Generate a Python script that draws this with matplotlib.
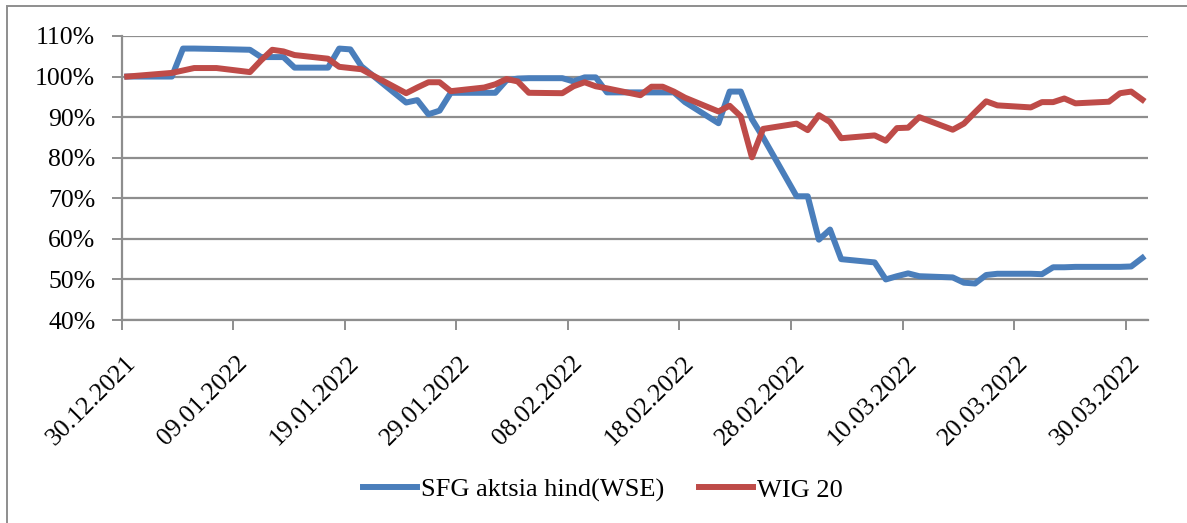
import matplotlib
matplotlib.use("Agg")
import matplotlib.pyplot as plt
import matplotlib.dates as mdates
from matplotlib.ticker import FuncFormatter
from matplotlib.transforms import ScaledTranslation
from matplotlib.patches import Rectangle
import pandas as pd

# trading days (WSE), 30.12.2021 - 31.03.2022
dates = ["2021-12-30", "2022-01-03", "2022-01-04", "2022-01-05", "2022-01-07",
         "2022-01-10", "2022-01-11", "2022-01-12", "2022-01-13", "2022-01-14",
         "2022-01-17", "2022-01-18", "2022-01-19", "2022-01-20", "2022-01-21",
         "2022-01-24", "2022-01-25", "2022-01-26", "2022-01-27", "2022-01-28",
         "2022-01-31", "2022-02-01", "2022-02-02", "2022-02-03", "2022-02-04",
         "2022-02-07", "2022-02-08", "2022-02-09", "2022-02-10", "2022-02-11",
         "2022-02-14", "2022-02-15", "2022-02-16", "2022-02-17", "2022-02-18",
         "2022-02-21", "2022-02-22", "2022-02-23", "2022-02-24", "2022-02-25",
         "2022-02-28", "2022-03-01", "2022-03-02", "2022-03-03", "2022-03-04",
         "2022-03-07", "2022-03-08", "2022-03-09", "2022-03-10", "2022-03-11",
         "2022-03-14", "2022-03-15", "2022-03-16", "2022-03-17", "2022-03-18",
         "2022-03-21", "2022-03-22", "2022-03-23", "2022-03-24", "2022-03-25",
         "2022-03-28", "2022-03-29", "2022-03-30", "2022-03-31"]

sfg = [100.0, 100.0, 106.9, 106.9, 106.8,
       106.6, 104.8, 104.8, 104.8, 102.2,
       102.2, 106.9, 106.7, 102.5, 100.3,
       93.6, 94.2, 90.7, 91.6, 96.0,
       96.0, 96.0, 99.1, 99.5, 99.6,
       99.6, 98.8, 99.8, 99.8, 96.1,
       96.1, 96.1, 96.1, 96.1, 93.7,
       88.5, 96.3, 96.3, 89.5, 85.0,
       70.5, 70.5, 59.8, 62.3, 55.0,
       54.2, 50.0, 50.8, 51.5, 50.8,
       50.5, 49.2, 49.0, 51.1, 51.4,
       51.4, 51.3, 53.0, 53.0, 53.1,
       53.1, 53.1, 53.2, 55.3]

wig20 = [100.0, 100.9, 101.5, 102.1, 102.1,
         101.1, 104.0, 106.6, 106.2, 105.3,
         104.4, 102.4, 102.1, 101.8, 100.3,
         95.9, 97.3, 98.6, 98.6, 96.4,
         97.3, 98.1, 99.4, 98.8, 96.0,
         95.9, 97.6, 98.6, 97.6, 97.1,
         95.4, 97.5, 97.5, 96.3, 94.8,
         91.4, 92.8, 90.2, 80.1, 87.1,
         88.4, 86.8, 90.5, 88.8, 84.8,
         85.5, 84.2, 87.3, 87.4, 90.0,
         86.9, 88.4, 91.2, 93.9, 92.9,
         92.4, 93.7, 93.7, 94.6, 93.4,
         93.8, 95.9, 96.3, 94.3]

series_names = ["SFG aktsia hind(WSE)", "WIG 20"]
tick_dates = pd.date_range("2021-12-30", "2022-03-30", freq="10D")

plt.rcParams['font.family'] = ['Liberation Serif', 'DejaVu Serif']

fig = plt.figure(figsize=(11.87, 5.23), dpi=100)
ax = fig.add_axes([0.1025, 0.3881, 0.8646, 0.5431])

# points sit in the middle of each day (Excel "between tick marks")
x = pd.to_datetime(dates) + pd.Timedelta(hours=12)
ax.plot(x, [v / 100 for v in sfg], color='#4A7EBB', lw=4.3,
        solid_joinstyle='round', label=series_names[0], zorder=3)
ax.plot(x, [v / 100 for v in wig20], color='#BE4B48', lw=4.3,
        solid_joinstyle='round', label=series_names[1], zorder=4)

ax.set_ylim(0.4, 1.1)
ax.set_yticks([0.4, 0.5, 0.6, 0.7, 0.8, 0.9, 1.0, 1.1])
ax.yaxis.set_major_formatter(FuncFormatter(lambda v, p: f"{v * 100:.0f}%"))
ax.set_xlim(pd.Timestamp("2021-12-30"), pd.Timestamp("2022-04-01"))
ax.set_xticks(tick_dates)
ax.xaxis.set_major_formatter(mdates.DateFormatter("%d.%m.%Y"))

ax.grid(axis='y', color='#8e8e8e', lw=1.6, zorder=0)
ax.set_axisbelow(True)
for s in ['top', 'right']:
    ax.spines[s].set_visible(False)
for s in ['left', 'bottom']:
    ax.spines[s].set_color('#8e8e8e')
    ax.spines[s].set_linewidth(1.6)

ax.tick_params(axis='y', length=7, width=1.4, color='#8e8e8e', pad=12,
               labelsize=18.5)
ax.tick_params(axis='x', length=7, width=1.4, color='#8e8e8e', pad=16,
               labelsize=18.5)
for lbl in ax.get_xticklabels():
    lbl.set_rotation(45)
    lbl.set_ha('right')
    lbl.set_va('top')
    lbl.set_rotation_mode('anchor')
    lbl.set_transform(lbl.get_transform() +
                      ScaledTranslation(0.03, 0, fig.dpi_scale_trans))

fig.legend(loc='center', bbox_to_anchor=(0.508, 0.063), ncol=2,
           frameon=False, fontsize=19, handlelength=2.05,
           handletextpad=0.15, columnspacing=1.3)

# chart area border (only left and top edges are visible in the crop)
fig.patches.append(Rectangle((7 / 1187, -0.05), 1.2, 1.05 - 6 / 523,
                             transform=fig.transFigure, fill=False,
                             edgecolor='#8e8e8e', lw=1.4))

fig.savefig("out.png", dpi=100)
